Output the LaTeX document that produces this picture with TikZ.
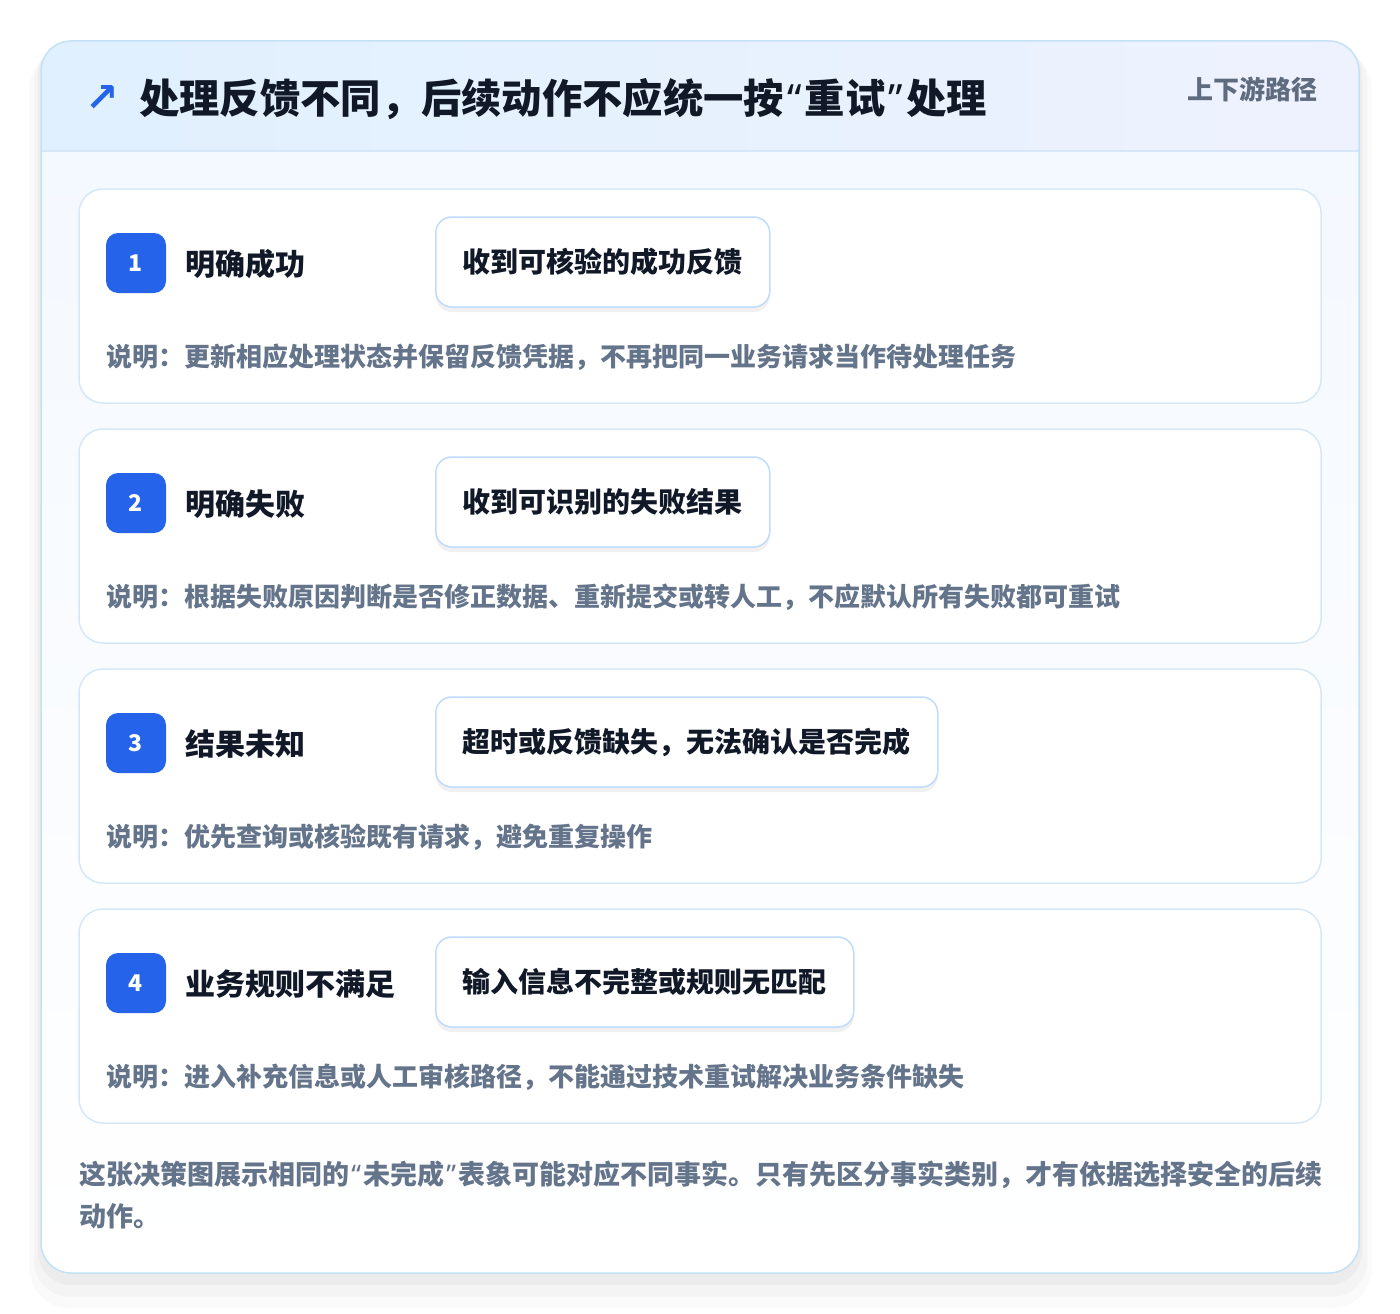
\documentclass[tikz,border=0pt]{standalone}
\usepackage{fontspec}
\setmainfont{Noto Sans CJK SC}
\newfontfamily\symfont{DejaVu Sans}
\newfontfamily\qfont{Noto Sans}
\newcommand{\openq}{\makebox[0.52em][c]{\qfont “}}
\newcommand{\closeq}{\makebox[0.52em][c]{\qfont ”}}
\usetikzlibrary{shadows}
\definecolor{cardline}{HTML}{C3E2F6}
\definecolor{boxline}{HTML}{D6E8F8}
\definecolor{pillline}{HTML}{BFDBFE}
\definecolor{badgeblue}{HTML}{2563EB}
\definecolor{titleink}{HTML}{111827}
\definecolor{noteink}{HTML}{64748B}
\definecolor{tagink}{HTML}{5F6B7E}
\definecolor{headl}{HTML}{E0F0FE}
\definecolor{headr}{HTML}{EEF2FE}
\definecolor{bodytop}{HTML}{F3F8FF}

\begin{document}
\begin{tikzpicture}[x=1pt,y=-1pt,
    card/.style={draw=boxline,line width=1.5pt,fill=white,rounded corners=24pt},
    badge/.style={fill=badgeblue,rounded corners=12pt,minimum size=60pt,inner sep=0pt,
      text=white,font=\fontsize{23}{23}\selectfont\bfseries},
    label/.style={anchor=west,inner sep=0pt,text=titleink,font=\fontsize{30}{30}\selectfont\bfseries},
    pill/.style={anchor=west,draw=pillline,line width=1.5pt,fill=white,rounded corners=16pt,
      minimum height=90pt,inner xsep=27pt,text=titleink,font=\fontsize{28}{28}\selectfont\bfseries,
      drop shadow={shadow xshift=0pt,shadow yshift=-5pt,opacity=0.06,fill=black}},
    note/.style={anchor=west,inner sep=0pt,text=noteink,font=\fontsize{26}{26}\selectfont\bfseries}]
     \useasboundingbox (0,0) rectangle (1400,1314);
     \fill[white] (0,0) rectangle (1400,1314);
     % soft shadow of the panel
     \fill[black,opacity=0.02,rounded corners=40pt] (29,49) rectangle (1372,1308);
     \fill[black,opacity=0.025,rounded corners=36pt] (34,46) rectangle (1367,1297);
     \fill[black,opacity=0.03,rounded corners=33pt] (38,43) rectangle (1362,1285);
     % panel
     \fill[top color=bodytop,bottom color=white,rounded corners=30pt] (41,41) rectangle (1359,1273);
     \begin{scope}
       \clip[rounded corners=30pt] (41,41) rectangle (1359,1273);
       \fill[left color=headl,right color=headr] (41,41) rectangle (1359,151);
     \end{scope}
     \draw[boxline,line width=1.5pt] (41,151) -- (1359,151);
     \draw[cardline,line width=1.5pt,rounded corners=30pt] (41,41) rectangle (1359,1273);
     % header
     \node[inner sep=0pt,text=badgeblue,font=\symfont\bfseries\fontsize{40}{40}\selectfont] (arrow) at (102,99) {↗};
     \node[anchor=west,inner sep=0pt,text=titleink,font=\fontsize{40.3}{40.3}\selectfont\bfseries] (title) at (139,99)
       {处理反馈不同，后续动作不应统一按\openq 重试\closeq 处理};
     \node[anchor=east,inner sep=0pt,text=tagink,font=\fontsize{26}{26}\selectfont\bfseries] (tag) at (1318,89) {上下游路径};
     % case 1
     \draw[card] (79,189) rectangle (1321,403);
     \node[badge] (b1) at (136,263) {1};
     \node[label] (l1) at (185,264) {明确成功};
     \node[pill] (p1) at (435,262) {收到可核验的成功反馈};
     \node[note] (n1) at (106,357) {说明：更新相应处理状态并保留反馈凭据，不再把同一业务请求当作待处理任务};
     % case 2
     \draw[card] (79,429) rectangle (1321,643);
     \node[badge] (b2) at (136,503) {2};
     \node[label] (l2) at (185,504) {明确失败};
     \node[pill] (p2) at (435,502) {收到可识别的失败结果};
     \node[note] (n2) at (106,597) {说明：根据失败原因判断是否修正数据、重新提交或转人工，不应默认所有失败都可重试};
     % case 3
     \draw[card] (79,669) rectangle (1321,883);
     \node[badge] (b3) at (136,743) {3};
     \node[label] (l3) at (185,744) {结果未知};
     \node[pill] (p3) at (435,742) {超时或反馈缺失，无法确认是否完成};
     \node[note] (n3) at (106,837) {说明：优先查询或核验既有请求，避免重复操作};
     % case 4
     \draw[card] (79,909) rectangle (1321,1123);
     \node[badge] (b4) at (136,983) {4};
     \node[label] (l4) at (185,984) {业务规则不满足};
     \node[pill] (p4) at (435,982) {输入信息不完整或规则无匹配};
     \node[note] (n4) at (106,1077) {说明：进入补充信息或人工审核路径，不能通过技术重试解决业务条件缺失};
     % closing remark
     \node[anchor=north west,inner sep=0pt,align=left,text=noteink,font=\fontsize{27}{42}\selectfont\bfseries] (remark) at (79,1161)
       {这张决策图展示相同的\openq 未完成\closeq 表象可能对应不同事实。只有先区分事实类别，才有依据选择安全的后续\\动作。};
    \end{tikzpicture}
\end{document}
